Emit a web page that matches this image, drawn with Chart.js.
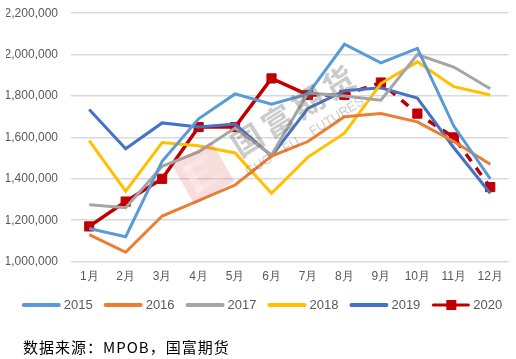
<!DOCTYPE html>
<html>
<head>
<meta charset="utf-8">
<script src="https://cdn.jsdelivr.net/npm/chart.js@4.4.0/dist/chart.umd.min.js"></script>
<style>
  body { margin: 0; background: #fff; overflow: hidden; }
  #wrap { position: relative; width: 516px; height: 359px; overflow: hidden; }
  #box { position: absolute; left: 0; top: -7px; width: 516px; height: 366px; }
  #note {
    position: absolute; left: 23px; top: 336px;
    font-family: "Noto Sans CJK SC", sans-serif; font-size: 15px; color: #000;
    letter-spacing: 1px;
  }
</style>
</head>
<body>
<div id="wrap">
  <div id="box"><canvas id="graph"></canvas></div>
  <div id="note">数据来源：MPOB，国富期货</div>
</div>
<script>
// months
let months = ['1月', '2月', '3月', '4月', '5月', '6月', '7月', '8月', '9月', '10月', '11月', '12月']

// palm oil stocks, tonnes
let y2015 = [1160000, 1120000, 1485000, 1690000, 1810000, 1760000, 1810000, 2050000, 1960000, 2030000, 1655000, 1400000]
let y2016 = [1130000, 1045000, 1220000, 1295000, 1370000, 1510000, 1580000, 1700000, 1715000, 1675000, 1580000, 1470000]
let y2017 = [1275000, 1260000, 1460000, 1530000, 1645000, 1515000, 1815000, 1800000, 1780000, 2000000, 1940000, 1835000]
let y2018 = [1585000, 1340000, 1575000, 1560000, 1525000, 1330000, 1505000, 1620000, 1860000, 1965000, 1845000, 1805000]
let y2019 = [1735000, 1545000, 1670000, 1650000, 1665000, 1510000, 1740000, 1825000, 1840000, 1790000, 1550000, 1330000]
let y2020 = [1170000, 1290000, 1400000, 1650000, 1650000, 1885000, 1805000, 1805000, 1865000, 1715000, 1600000, 1360000]

let yTicks = [1000000, 1200000, 1400000, 1600000, 1800000, 2000000, 2200000]

// legend drawn by hand so it stays on one row
let legendRow = {
    id: 'legendRow',
    afterDraw(chart) {
        let g = chart.ctx
        let sets = chart.data.datasets
        g.save()
        g.font = '13px "Liberation Sans", Arial, sans-serif'
        g.textBaseline = 'middle'
        let lineW = 39, gap = 3, space = 11
        let total = 0
        sets.forEach(s => { total += lineW + gap + g.measureText(s.label).width + space })
        total -= space
        let x = 262 - total / 2
        let y = 312
        sets.forEach((s, i) => {
            g.strokeStyle = s.borderColor
            g.lineCap = 'round'
            g.lineWidth = i == 5 ? 3 : 4
            g.beginPath()
            g.moveTo(x + 2, y)
            g.lineTo(x + lineW - 2, y)
            g.stroke()
            if (i == 5) {
                g.fillStyle = s.borderColor
                g.fillRect(x + 15, y - 5, 10, 10)
            }
            x += lineW + gap
            g.fillStyle = '#595959'
            g.fillText(s.label, x, y)
            x += g.measureText(s.label).width + space
        })
        g.restore()
    }
}

// faint watermark
let watermark = {
    id: 'watermark',
    afterDatasetsDraw(chart) {
        let g = chart.ctx
        g.save()
        g.translate(203, 180)
        g.rotate(-0.52)
        g.globalAlpha = 0.2
        g.fillStyle = '#d9534f'
        g.fillRect(-23, -23, 46, 46)
        g.fillStyle = '#fff'
        g.fillRect(-15, -15, 8, 30)
        g.fillRect(-15, -15, 28, 6)
        g.fillRect(-15, -3, 20, 5)
        g.fillRect(-15, 9, 30, 6)
        g.restore()

        g.save()
        g.translate(247, 147)
        g.rotate(-0.56)
        g.globalAlpha = 0.35
        g.fillStyle = '#6b6b6b'
        g.font = 'bold 31px "Noto Sans CJK SC"'
        g.textBaseline = 'middle'
        g.textAlign = 'center'
        let chars = ['国', '富', '期', '货']
        chars.forEach((c, i) => g.fillText(c, i * 36, 0))
        g.font = '13px "Liberation Sans"'
        g.textAlign = 'left'
        g.fillText('GUO    FU    FUTURES', -18, 28)
        g.restore()
    }
}

let lineSet = (label, data, color) => ({
    label: label,
    data: data,
    borderColor: color,
    backgroundColor: color,
    borderWidth: 3,
    pointRadius: 0,
    pointHoverRadius: 0,
    tension: 0
})

let d2020 = lineSet('2020', y2020, '#C00000')
d2020.borderWidth = 3.5
d2020.pointRadius = 6.5
d2020.pointBorderWidth = 1
d2020.pointStyle = 'rect'
d2020.segment = {
    borderDash: ctx => ctx.p0DataIndex >= 6 ? [9, 8] : undefined
}

let sets = [
    lineSet('2015', y2015, '#5B9BD5'),
    lineSet('2016', y2016, '#ED7D31'),
    lineSet('2017', y2017, '#A5A5A5'),
    lineSet('2018', y2018, '#FFC000'),
    lineSet('2019', y2019, '#4472C4'),
    d2020
]

Chart.defaults.font.family = '"Liberation Sans", Arial, sans-serif'
Chart.defaults.color = '#595959'

let graph = new Chart(document.getElementById('graph'), {
    type: 'line',
    data: { labels: months, datasets: sets },
    plugins: [watermark, legendRow],
    options: {
        responsive: true,
        maintainAspectRatio: false,
        animation: false,
        layout: { padding: { left: 6, right: 6, top: 0, bottom: 67 } },
        plugins: {
            tooltip: { enabled: false },
            legend: { display: false }
        },
        scales: {
            x: {
                offset: true,
                grid: { display: false, drawTicks: false },
                border: { display: false },
                ticks: { font: { size: 12 }, padding: 8, maxRotation: 0 }
            },
            y: {
                min: 1000000,
                max: 2200000,
                afterBuildTicks: axis => { axis.ticks = yTicks.map(v => ({ value: v })) },
                afterFit: axis => { axis.width = 65 },
                grid: { color: '#D9D9D9', lineWidth: 1.5, drawTicks: false },
                border: { display: false },
                ticks: {
                    font: { size: 12 },
                    padding: 13,
                    callback: v => v.toLocaleString('en-US')
                }
            }
        }
    }
})
</script>
</body>
</html>
